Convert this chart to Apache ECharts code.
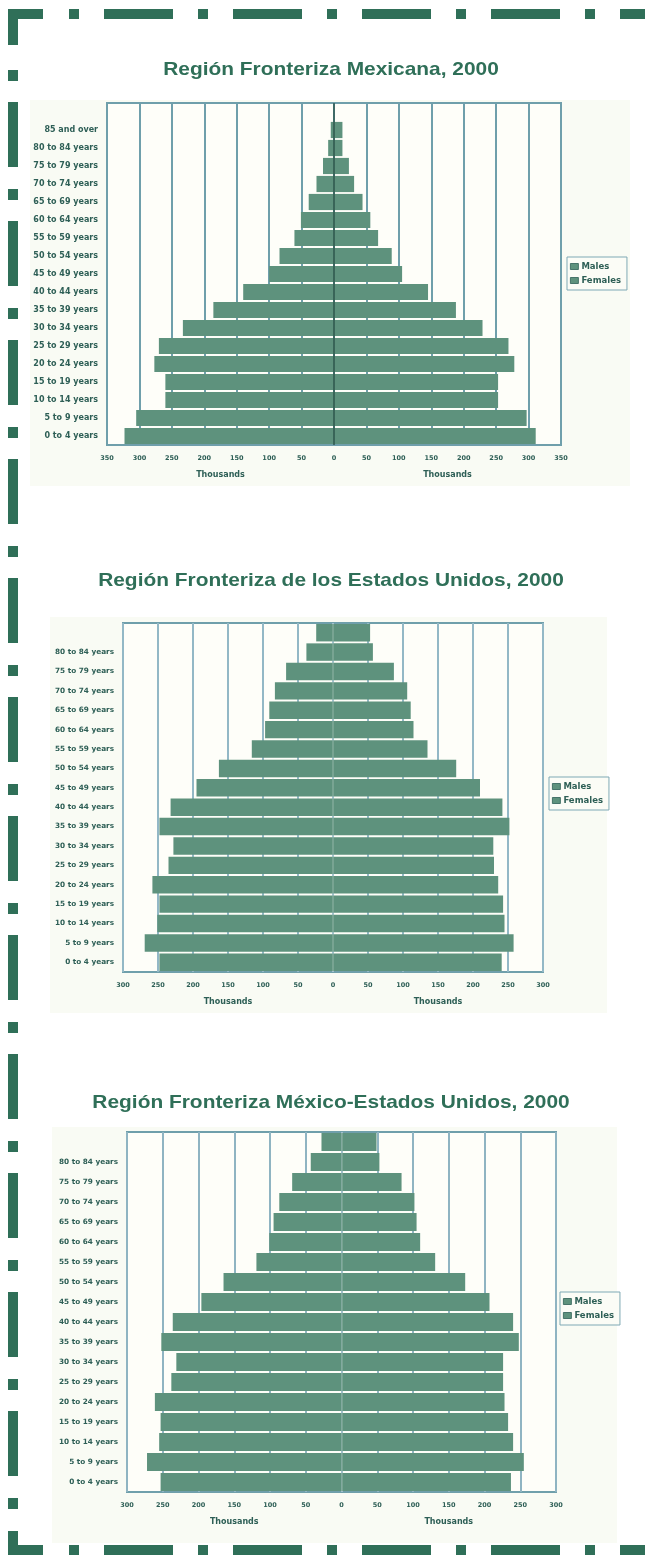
<!DOCTYPE html>
<html>
<head>
<meta charset="utf-8">
<script src="https://cdn.jsdelivr.net/npm/echarts@6/dist/echarts.min.js"></script>
<style>
html,body{margin:0;padding:0;background:#ffffff;}
#chart{width:645px;height:1565px;}
</style>
</head>
<body>
<div id="chart"></div>
<script>
// ---- Data (thousands) ----
const ageGroups = ['0 to 4 years','5 to 9 years','10 to 14 years','15 to 19 years','20 to 24 years','25 to 29 years','30 to 34 years','35 to 39 years','40 to 44 years','45 to 49 years','50 to 54 years','55 to 59 years','60 to 64 years','65 to 69 years','70 to 74 years','75 to 79 years','80 to 84 years','85 and over'];

const titles = ['Región Fronteriza Mexicana, 2000','Región Fronteriza de los Estados Unidos, 2000','Región Fronteriza México-Estados Unidos, 2000'];
const seriesNames = ['Males','Females'];
const axisTitle = 'Thousands';

const mxMales   = [323,305,260,260,277,270,233,186,140,100,84,61,51,39,27,17,9,5];
const mxFemales = [311,297,253,253,278,269,229,188,145,105,89,68,56,44,31,23,13,13];

const usMales   = [248,269,251,248,258,235,228,248,232,195,163,116,97,91,83,67,38,24];
const usFemales = [241,258,245,243,236,230,229,252,242,210,176,135,115,111,106,87,57,53];

const bdMales   = [253,272,255,253,261,238,231,252,236,196,165,119,101,95,87,69,43,28];
const bdFemales = [237,255,240,233,228,226,226,248,240,207,173,131,110,105,102,84,53,49];

const axisMax = [350,300,300];
const axisStep = 50;

// ---- Layout ----
const GREEN = '#2f6f58';
const BAR = '#5e927d';
const TXT = '#2e5f56';
const FONT = '"DejaVu Sans", "Liberation Sans", Arial, sans-serif';
const grids = [
  {left:107, top:103, width:454, height:342},
  {left:123, top:623, width:420, height:349},
  {left:127, top:1132, width:429, height:360}
];
const titleCY = [70, 581, 1103];
const legendPos = [{left:567, top:257},{left:549, top:777},{left:560, top:1292}];
const bgRects = [{x:30,y:100,w:600,h:386},{x:50,y:617,w:557,h:396},{x:52,y:1127,w:565,h:416}];
const gridColors = ['#6f9fab','#93b8c6','#8fb4c2'];
const zeroColors = ['rgba(40,80,70,0.9)','rgba(255,255,255,0.22)','rgba(255,255,255,0.22)'];

const chartData = [
  {cats: ageGroups.concat(['']), m: mxMales.concat([null]), f: mxFemales.concat([null]), hideTop:false, lblSize:8},
  {cats: ageGroups, m: usMales, f: usFemales, hideTop:true, lblSize:7.3},
  {cats: ageGroups, m: bdMales, f: bdFemales, hideTop:true, lblSize:7.3}
];

// ---- Frame graphics ----
const graphic = [];
const FT = 10; // thickness
const leftX = 8, topY = 9, botY = 1545;
graphic.push({type:'rect', shape:{x:leftX,y:topY,width:35,height:FT}, style:{fill:GREEN}, z:0});
graphic.push({type:'rect', shape:{x:leftX,y:topY,width:FT,height:36}, style:{fill:GREEN}, z:0});
graphic.push({type:'rect', shape:{x:leftX,y:botY,width:35,height:FT}, style:{fill:GREEN}, z:0});
graphic.push({type:'rect', shape:{x:leftX,y:1531,width:FT,height:24}, style:{fill:GREEN}, z:0});
for (let k = 0; k < 6; k++) {
  const sx = 69 + 129*k, lx = 104 + 129*k;
  [topY, botY].forEach(function(y){
    if (sx < 645) graphic.push({type:'rect', shape:{x:sx,y:y,width:10,height:FT}, style:{fill:GREEN}});
    if (lx < 645) graphic.push({type:'rect', shape:{x:lx,y:y,width:69,height:FT}, style:{fill:GREEN}});
  });
}
for (let k = 0; k < 13; k++) {
  const sy = 70 + 119*k, ly = 102 + 119*k;
  if (sy < 1525) graphic.push({type:'rect', shape:{x:leftX,y:sy,width:FT,height:11}, style:{fill:GREEN}});
  if (ly + 65 < 1525) graphic.push({type:'rect', shape:{x:leftX,y:ly,width:FT,height:65}, style:{fill:GREEN}});
}
bgRects.forEach(function(r){
  graphic.push({type:'rect', shape:{x:r.x,y:r.y,width:r.w,height:r.h}, style:{fill:'#f9fbf4'}, z:-10});
});
titles.forEach(function(t, i){
  graphic.push({type:'text', x:331, y:titleCY[i], scaleX:1.1, z:5,
    style:{text:t, fill:GREEN, font:'bold 19px "Liberation Sans", Arial, sans-serif', textAlign:'center', textVerticalAlign:'middle'}});
});
grids.forEach(function(g, i){
  const bottom = g.top + g.height;
  const q1 = g.left + g.width/4, q3 = g.left + 3*g.width/4;
  [q1, q3].forEach(function(x){
    graphic.push({type:'text', x:x, y:bottom + 30, z:5, style:{text:axisTitle, fill:TXT, font:'bold 8px ' + FONT, textAlign:'center', textVerticalAlign:'middle'}});
  });
});

// ---- Build option ----
const option = {
  animation: false,
  backgroundColor: '#ffffff',
  graphic: graphic,
  legend: legendPos.map(function(p){
    return {data:seriesNames, left:p.left, top:p.top, orient:'vertical', itemWidth:8, itemHeight:6, itemGap:5,
      padding:[5,6,5,3], borderColor:'#7fa9b5', borderWidth:1, backgroundColor:'#fbfcf6',
      icon:'rect', selectedMode:false,
      itemStyle:{borderColor:'#2d5e55', borderWidth:0.8},
      textStyle:{color:TXT, fontSize:8.5, fontWeight:'bold', padding:[0,0,0,-2], fontFamily:FONT}};
  }),
  grid: grids.map(function(g){
    return {left:g.left, top:g.top, width:g.width, height:g.height, show:true, backgroundColor:'#fefef9', borderColor:'#6f9fab', borderWidth:2, containLabel:false};
  }),
  xAxis: grids.map(function(g, i){
    return {type:'value', gridIndex:i, min:-axisMax[i], max:axisMax[i], interval:axisStep,
      axisLine:{show:false}, axisTick:{show:false},
      splitLine:{show:true, lineStyle:{color:gridColors[i], width:2}},
      axisLabel:{margin:10, color:TXT, fontSize:6.5, fontWeight:'bold', fontFamily:FONT,
        formatter:function(v){return String(Math.abs(v));}}};
  }),
  yAxis: chartData.map(function(d, i){
    return {type:'category', gridIndex:i, data:d.cats, position:'left',
      axisLine:{show:false, onZero:false}, axisTick:{show:false}, splitLine:{show:false},
      axisLabel:{margin:9, color:TXT, fontSize:d.lblSize, fontWeight:'bold', fontFamily:FONT,
        interval: d.hideTop ? function(idx){ return idx !== d.cats.length - 1; } : 0}};
  }),
  series: []
};
chartData.forEach(function(d, i){
  option.series.push({type:'bar', name:seriesNames[0], xAxisIndex:i, yAxisIndex:i, z:10,
    data:d.m.map(function(v){return v == null ? null : -v;}),
    barGap:'-100%', barCategoryGap:'10%', itemStyle:{color:BAR},
    markLine:{silent:true, symbol:'none', label:{show:false}, lineStyle:{color:zeroColors[i], width:1.5, type:'solid'}, data:[{xAxis:0}], z:12}});
  option.series.push({type:'bar', name:seriesNames[1], xAxisIndex:i, yAxisIndex:i, z:10,
    data:d.f, barGap:'-100%', barCategoryGap:'10%', itemStyle:{color:BAR}});
});

const chart = echarts.init(document.getElementById('chart'), null, {renderer:'canvas'});
chart.setOption(option);
</script>
</body>
</html>
